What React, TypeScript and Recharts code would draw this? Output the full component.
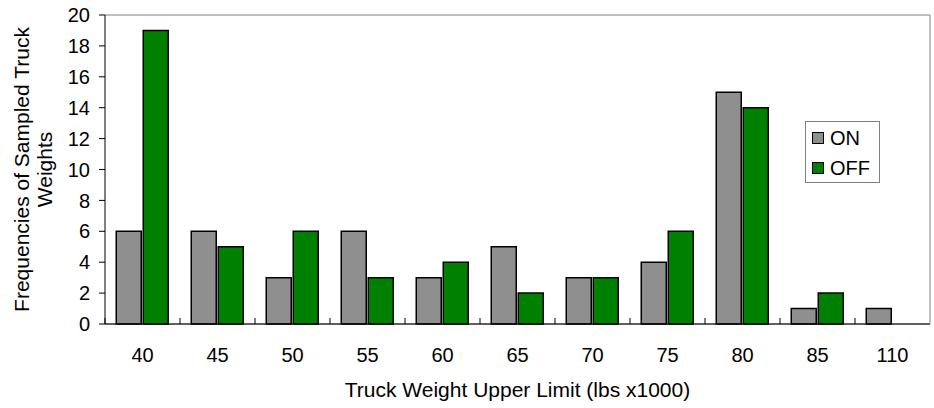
import {
  BarChart,
  Bar,
  XAxis,
  YAxis,
  CartesianGrid,
  Label,
} from 'recharts';

const categories = ['40', '45', '50', '55', '60', '65', '70', '75', '80', '85', '110'];
const onValues = [6, 6, 3, 6, 3, 5, 3, 4, 15, 1, 1];
const offValues = [19, 5, 6, 3, 4, 2, 3, 6, 14, 2, 0];
const yTicks = [0, 2, 4, 6, 8, 10, 12, 14, 16, 18, 20];

const ON_COLOR = '#8f8f8f';
const OFF_COLOR = '#008000';
const FONT = '"Liberation Sans", Arial, sans-serif';

const data = categories.map((c, i) => ({
  name: c,
  on: onValues[i],
  off: offValues[i] || null,
}));

// category tick: label plus the small between-category mark that Excel draws
function CategoryTick(props: any) {
  const { x, y, payload } = props;
  const half = payload?.offset ?? 0;
  return (
    <g>
      <line x1={x - half} x2={x - half} y1={y} y2={y - 6} stroke="#000" strokeWidth={1} />
      <text x={x} y={y + 38} textAnchor="middle" fontSize={20} fontFamily={FONT} fill="#000">
        {payload.value}
      </text>
    </g>
  );
}

function YTitle(props: any) {
  const vb = props.viewBox || {};
  const cy = vb.y + vb.height / 2;
  return (
    <text
      transform={`rotate(-90, 22, ${cy})`}
      x={22}
      y={cy}
      textAnchor="middle"
      fontSize={21}
      fontFamily={FONT}
      fill="#000"
    >
      <tspan x={22} dy="0.33em">Frequencies of Sampled Truck</tspan>
      <tspan x={22} dy="23">Weights</tspan>
    </text>
  );
}

function XTitle(props: any) {
  const vb = props.viewBox || {};
  return (
    <text
      x={vb.x + vb.width / 2}
      y={vb.y + 73}
      textAnchor="middle"
      fontSize={21}
      fontFamily={FONT}
      fill="#000"
    >
      Truck Weight Upper Limit (lbs x1000)
    </text>
  );
}

function LegendBox() {
  const items = [
    { label: 'ON', color: ON_COLOR },
    { label: 'OFF', color: OFF_COLOR },
  ];
  return (
    <div
      style={{
        position: 'absolute',
        left: 805,
        top: 121,
        width: 75,
        height: 62,
        border: '1.5px solid #808080',
        background: '#fff',
        boxSizing: 'border-box',
        fontFamily: FONT,
        fontSize: 20,
      }}
    >
      {items.map((it, i) => (
        <div
          key={it.label}
          style={{
            position: 'absolute',
            left: 6,
            top: 4 + i * 30,
            height: 24,
            display: 'flex',
            alignItems: 'center',
          }}
        >
          <span
            style={{
              display: 'inline-block',
              width: 12,
              height: 12,
              boxSizing: 'border-box',
              background: it.color,
              border: '1.5px solid #000',
              marginRight: 6,
            }}
          />
          <span style={{ lineHeight: '24px' }}>{it.label}</span>
        </div>
      ))}
    </div>
  );
}

export default function App() {
  return (
    <div style={{ position: 'fixed', left: 0, top: 0, width: 934, height: 408, background: '#fff' }}>
      <BarChart
        width={934}
        height={408}
        data={data}
        margin={{ top: 15, right: 0, bottom: 0, left: 0 }}
        barCategoryGap="15%"
        barGap={2}
      >
        <CartesianGrid horizontal vertical={false} stroke="#808080" strokeWidth={1} />
        <XAxis
          dataKey="name"
          height={84}
          axisLine={{ stroke: '#000' }}
          tickLine={false}
          tickSize={0}
          tickMargin={0}
          tick={<CategoryTick />}
          interval={0}
        >
          <Label content={<XTitle />} />
        </XAxis>
        <YAxis
          yAxisId="left"
          width={105}
          domain={[0, 20]}
          ticks={yTicks}
          interval={0}
          axisLine={{ stroke: '#000' }}
          tickLine={{ stroke: '#000' }}
          tickSize={6}
          tickMargin={9}
          tick={{ fontSize: 20, fontFamily: FONT, fill: '#000' }}
          label={<YTitle />}
        />
        <YAxis
          yAxisId="right"
          orientation="right"
          width={4}
          domain={[0, 20]}
          tick={false}
          tickLine={false}
          axisLine={{ stroke: '#808080' }}
        />
        <Bar
          yAxisId="left"
          dataKey="on"
          name="ON"
          fill={ON_COLOR}
          stroke="#000"
          strokeWidth={1.5}
          isAnimationActive={false}
        />
        <Bar
          yAxisId="left"
          dataKey="off"
          name="OFF"
          fill={OFF_COLOR}
          stroke="#000"
          strokeWidth={1.5}
          isAnimationActive={false}
        />
      </BarChart>
      <LegendBox />
    </div>
  );
}
